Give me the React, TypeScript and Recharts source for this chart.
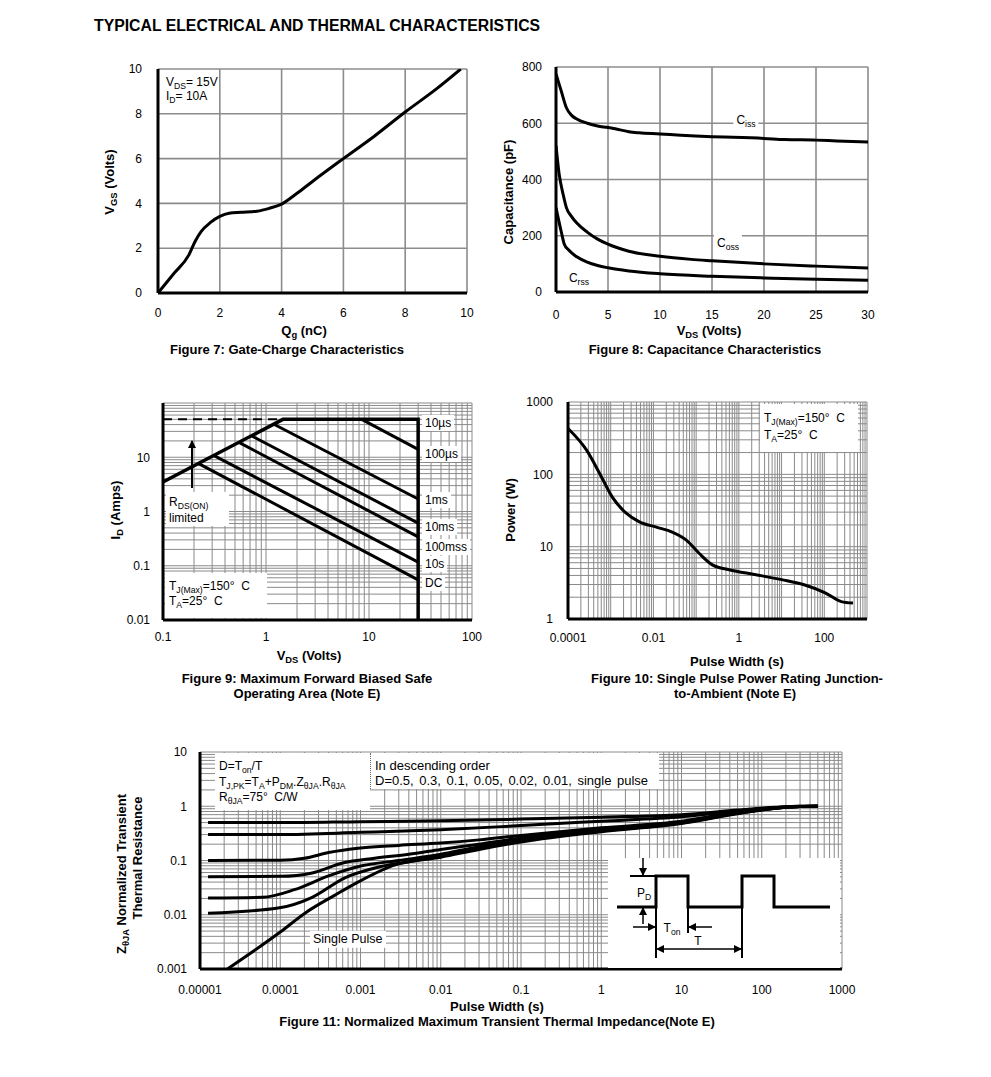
import React from 'react';
import { LineChart, Line, XAxis, YAxis, CartesianGrid } from 'recharts';

const FONT = '"Liberation Sans", Arial, Helvetica, sans-serif';

// ---------- Figure 7: gate charge ----------
const QG_NC = [0, 0.5, 1, 1.2, 1.4, 1.7, 2, 2.3, 2.7, 3.2, 3.6, 4, 4.5, 5, 6, 7, 8, 9, 9.8];
const VGS_V = [0, 0.85, 1.7, 2.3, 2.75, 3.15, 3.42, 3.56, 3.6, 3.65, 3.78, 3.97, 4.45, 4.98, 6.0, 7.0, 8.08, 9.1, 10];
const FIG7_TICKS = [0, 2, 4, 6, 8, 10];

// ---------- Figure 8: capacitance ----------
const CISS_VDS = [0, 0.5, 1, 1.5, 2, 3, 4, 5, 6, 7, 8, 10, 12, 15, 17, 20, 22, 25, 27, 30];
const CISS_PF = [775, 715, 655, 628, 615, 600, 590, 585, 578, 570, 566, 562, 557, 552, 550, 546, 542, 540, 537, 533];
const COSS_VDS = [0, 0.3, 0.7, 1, 1.5, 2, 3, 4, 5, 7, 10, 13, 15, 20, 25, 30];
const COSS_PF = [520, 420, 345, 300, 268, 245, 213, 188, 170, 145, 127, 116, 111, 100, 92, 85];
const CRSS_VDS = [0, 0.5, 0.8, 1.2, 2, 3, 4, 5, 7, 10, 15, 20, 25, 30];
const CRSS_PF = [300, 215, 170, 150, 125, 106, 94, 86, 75, 65, 56, 50, 45, 42];
const FIG8_X_TICKS = [0, 5, 10, 15, 20, 25, 30];
const FIG8_Y_TICKS = [0, 200, 400, 600, 800];

// ---------- Figure 9: safe operating area ----------
const SOA_LIMIT: [number, number][] = [[0.1, 3.5], [1.46, 50], [30, 50], [30, 0.01]];
const SOA_DASH: [number, number][] = [[0.1, 50], [1.46, 50]];
const SOA_100US: [number, number][] = [[8.5, 50], [30, 14]];
const SOA_1MS: [number, number][] = [[1.18, 41], [30, 1.7]];
const SOA_10MS: [number, number][] = [[0.72, 25], [30, 0.61]];
const SOA_100MS: [number, number][] = [[0.54, 19], [30, 0.34]];
const SOA_10S: [number, number][] = [[0.31, 10.8], [30, 0.117]];
const SOA_DC: [number, number][] = [[0.22, 7.7], [30, 0.055]];
const FIG9_X_LABELS = [0.1, 1, 10, 100];
const FIG9_X_TEXT = ['0.1', '1', '10', '100'];
const FIG9_Y_LABELS = [0.01, 0.1, 1, 10];
const FIG9_Y_TEXT = ['0.01', '0.1', '1', '10'];
const SOA_TAGS = ['10µs', '100µs', '1ms', '10ms', '100mss', '10s', 'DC'];

// ---------- Figure 10: single pulse power ----------
const PULSE_PW: [number, number][] = [
  [1e-4, 430], [2.75e-4, 214], [5.5e-4, 103], [1.1e-3, 48], [2.3e-3, 29], [4.7e-3, 22],
  [0.0117, 18.6], [0.0275, 15.9], [0.059, 12.3], [0.117, 8.1], [0.24, 5.6], [0.59, 4.8],
  [2.5, 4.1], [10, 3.5], [35, 2.95], [105, 2.3], [250, 1.74], [470, 1.66],
];
const FIG10_X_LABELS = [1e-4, 1e-2, 1, 100];
const FIG10_X_TEXT = ['0.0001', '0.01', '1', '100'];
const FIG10_Y_LABELS = [1, 10, 100, 1000];
const FIG10_Y_TEXT = ['1', '10', '100', '1000'];

// ---------- Figure 11: transient thermal impedance ----------
const Z_D05: [number, number][] = [[1.26e-5, 0.5], [1e-4, 0.5], [1e-3, 0.52], [0.01, 0.54], [0.1, 0.58], [1, 0.63], [10, 0.7], [50, 0.85], [150, 0.96], [300, 1.0], [500, 1.0]];
const Z_D03: [number, number][] = [[1.26e-5, 0.3], [1e-4, 0.3], [1e-3, 0.33], [0.01, 0.37], [0.1, 0.44], [1, 0.53], [10, 0.64], [50, 0.82], [150, 0.95], [300, 1.0], [500, 1.0]];
const Z_D01: [number, number][] = [[1.26e-5, 0.1], [1e-4, 0.101], [2e-4, 0.11], [4e-4, 0.14], [1e-3, 0.17], [3e-3, 0.19], [0.01, 0.21], [0.03, 0.24], [0.1, 0.29], [1, 0.4], [10, 0.53], [50, 0.78], [150, 0.94], [300, 0.99], [500, 1.0]];
const Z_D005: [number, number][] = [[1.26e-5, 0.05], [1e-4, 0.051], [2.5e-4, 0.059], [6e-4, 0.09], [1.5e-3, 0.11], [4e-3, 0.13], [0.01, 0.16], [0.03, 0.2], [0.1, 0.26], [1, 0.38], [10, 0.51], [50, 0.76], [150, 0.93], [300, 0.99], [500, 1.0]];
const Z_D002: [number, number][] = [[1.26e-5, 0.0204], [6e-5, 0.021], [1.5e-4, 0.029], [4e-4, 0.052], [1e-3, 0.079], [3e-3, 0.1], [0.01, 0.13], [0.03, 0.18], [0.1, 0.24], [1, 0.36], [10, 0.5], [50, 0.75], [150, 0.93], [300, 0.99], [500, 1.0]];
const Z_D001: [number, number][] = [[1.26e-5, 0.0107], [9.4e-5, 0.0133], [2.5e-4, 0.021], [6.4e-4, 0.048], [1.65e-3, 0.075], [4e-3, 0.095], [0.01, 0.12], [0.03, 0.17], [0.1, 0.23], [1, 0.35], [10, 0.49], [50, 0.74], [150, 0.92], [300, 0.99], [500, 1.0]];
const Z_SINGLE: [number, number][] = [[2.2e-5, 0.001], [1e-4, 0.0048], [2.05e-4, 0.0108], [4.8e-4, 0.023], [9.3e-4, 0.04], [2.7e-3, 0.083], [0.01, 0.115], [0.03, 0.16], [0.1, 0.22], [1, 0.34], [10, 0.48], [50, 0.73], [150, 0.92], [300, 0.99], [500, 1.0]];
const FIG11_X_LABELS = [1e-5, 1e-4, 1e-3, 1e-2, 0.1, 1, 10, 100, 1000];
const FIG11_X_TEXT = ['0.00001', '0.0001', '0.001', '0.01', '0.1', '1', '10', '100', '1000'];
const FIG11_Y_LABELS = [0.001, 0.01, 0.1, 1, 10];
const FIG11_Y_TEXT = ['0.001', '0.01', '0.1', '1', '10'];

// ---------- helpers ----------
const zip = (xs: number[], ys: number[]) => xs.map((x, i) => ({ x, y: ys[i] }));
const pairs = (p: [number, number][]) => p.map(([x, y]) => ({ x, y }));

// grid lines at 1..9 of every decade
function logTicks(lo: number, hi: number) {
  const out: number[] = [];
  for (let e = lo; e < hi; e++) for (let k = 1; k < 10; k++) out.push(+(k * Math.pow(10, e)).toPrecision(2));
  out.push(+Math.pow(10, hi).toPrecision(2));
  return out;
}
const labeler = (vals: number[], txt: string[]) => (v: number) => {
  const i = vals.findIndex((u) => Math.abs(u - v) / u < 1e-6);
  return i < 0 ? '' : txt[i];
};

const YW = 70, PT = 10, PR = 28, XH = 36;

type AxisCfg = { domain: [number, number]; ticks: number[]; log?: boolean; fmt?: (v: number) => string; gap: number };
type PlotCfg = { l: number; t: number; r: number; b: number; x: AxisCfg; y: AxisCfg; grid: string; gw: number };

function plot(key: string, c: PlotCfg, series: React.ReactNode[]) {
  const tick = { fill: '#000', fontSize: 12, fontFamily: FONT };
  const axisLine = { stroke: '#000', strokeWidth: 3 };
  return (
    <div key={key} style={{ position: 'absolute', left: c.l - YW, top: c.t - PT }}>
      <LineChart width={c.r - c.l + YW + PR} height={c.b - c.t + PT + XH} margin={{ top: PT, right: PR, left: 0, bottom: 0 }}>
        <CartesianGrid stroke={c.grid} strokeWidth={c.gw} />
        <XAxis type="number" dataKey="x" scale={c.x.log ? 'log' : 'linear'} domain={c.x.domain} ticks={c.x.ticks}
          interval={0} allowDataOverflow height={XH} tickLine={false} axisLine={axisLine}
          tickMargin={c.x.gap} tick={tick} tickFormatter={c.x.fmt} />
        <YAxis type="number" scale={c.y.log ? 'log' : 'linear'} domain={c.y.domain} ticks={c.y.ticks}
          interval={0} allowDataOverflow width={YW} tickLine={false} axisLine={axisLine}
          tickMargin={c.y.gap} tick={tick} tickFormatter={c.y.fmt} />
        {series}
      </LineChart>
    </div>
  );
}

const curve = (key: string, data: { x: number; y: number }[], opts: { type?: 'monotone' | 'linear'; w?: number; dash?: string } = {}) => (
  <Line key={key} data={data} dataKey="y" type={opts.type ?? 'monotone'} stroke="#000" strokeWidth={opts.w ?? 3}
    strokeDasharray={opts.dash} dot={false} activeDot={false} isAnimationActive={false} />
);

const Sub = ({ children }: { children: React.ReactNode }) => (
  <span style={{ fontSize: '0.72em', position: 'relative', top: '0.3em' }}>{children}</span>
);

type TxtProps = { x: number; y: number; a?: 'start' | 'middle' | 'end'; b?: boolean; s?: number; bg?: boolean; rot?: boolean; ws?: number; children: React.ReactNode };
const Txt = ({ x, y, a = 'start', b, s, bg, rot, ws, children }: TxtProps) => {
  const tx = a === 'middle' ? '-50%' : a === 'end' ? '-100%' : '0';
  return (
    <div style={{
      position: 'absolute', left: x, top: y, whiteSpace: 'nowrap', lineHeight: 1,
      transform: `translate(${tx}, -50%)${rot ? ' rotate(-90deg)' : ''}`,
      fontFamily: FONT, fontSize: s ?? (b ? 13 : 12), fontWeight: b ? 700 : 400, color: '#000',
      wordSpacing: ws, background: bg ? '#fff' : undefined, padding: bg ? '2px 3px' : undefined,
    }}>{children}</div>
  );
};

const Box = ({ l, t, r, b, dotted }: { l: number; t: number; r: number; b: number; dotted?: boolean }) => (
  <div style={{ position: 'absolute', left: l, top: t, width: r - l, height: b - t, background: '#fff', borderLeft: dotted ? '1px dotted #666' : undefined }} />
);

export default function App() {
  const fig7: PlotCfg = {
    l: 158, t: 69, r: 467, b: 293, grid: '#8c8c8c', gw: 1.6,
    x: { domain: [0, 10], ticks: FIG7_TICKS, gap: 9 },
    y: { domain: [0, 10], ticks: FIG7_TICKS, gap: 10 },
  };
  const fig8: PlotCfg = {
    l: 556, t: 67, r: 868, b: 292, grid: '#8c8c8c', gw: 1.6,
    x: { domain: [0, 30], ticks: FIG8_X_TICKS, gap: 12 },
    y: { domain: [0, 800], ticks: FIG8_Y_TICKS, gap: 8 },
  };
  const fig9: PlotCfg = {
    l: 163, t: 403, r: 472, b: 620, grid: '#8a8a8a', gw: 1,
    x: { domain: [0.1, 100], ticks: logTicks(-1, 2), log: true, fmt: labeler(FIG9_X_LABELS, FIG9_X_TEXT), gap: 6 },
    y: { domain: [0.01, 100], ticks: logTicks(-2, 2), log: true, fmt: labeler(FIG9_Y_LABELS, FIG9_Y_TEXT), gap: 7 },
  };
  const fig10: PlotCfg = {
    l: 568, t: 402, r: 867, b: 619, grid: '#8a8a8a', gw: 1,
    x: { domain: [1e-4, 1000], ticks: logTicks(-4, 3), log: true, fmt: labeler(FIG10_X_LABELS, FIG10_X_TEXT), gap: 8 },
    y: { domain: [1, 1000], ticks: logTicks(0, 3), log: true, fmt: labeler(FIG10_Y_LABELS, FIG10_Y_TEXT), gap: 9 },
  };
  const fig11: PlotCfg = {
    l: 200, t: 752, r: 842, b: 969, grid: '#8a8a8a', gw: 1,
    x: { domain: [1e-5, 1000], ticks: logTicks(-5, 3), log: true, fmt: labeler(FIG11_X_LABELS, FIG11_X_TEXT), gap: 10 },
    y: { domain: [0.001, 10], ticks: logTicks(-3, 1), log: true, fmt: labeler(FIG11_Y_LABELS, FIG11_Y_TEXT), gap: 7 },
  };

  const soaLabelY = [423, 454, 500, 527, 547, 564, 583];

  return (
    <div style={{ position: 'relative', width: 991, height: 1077, background: '#fff', overflow: 'hidden', fontFamily: FONT }}>
      <style>{'body{margin:0}'}</style>

      <Txt x={94} y={26} b s={15.8}>TYPICAL ELECTRICAL AND THERMAL CHARACTERISTICS</Txt>

      {plot('f7', fig7, [curve('qg', zip(QG_NC, VGS_V))])}
      {plot('f8', fig8, [
        curve('ciss', zip(CISS_VDS, CISS_PF)),
        curve('coss', zip(COSS_VDS, COSS_PF)),
        curve('crss', zip(CRSS_VDS, CRSS_PF)),
      ])}
      {plot('f9', fig9, [
        curve('dash', pairs(SOA_DASH), { type: 'linear', w: 2, dash: '9 6' }),
        curve('lim', pairs(SOA_LIMIT), { type: 'linear', w: 3.5 }),
        curve('100us', pairs(SOA_100US), { type: 'linear' }),
        curve('1ms', pairs(SOA_1MS), { type: 'linear' }),
        curve('10ms', pairs(SOA_10MS), { type: 'linear' }),
        curve('100ms', pairs(SOA_100MS), { type: 'linear' }),
        curve('10s', pairs(SOA_10S), { type: 'linear' }),
        curve('dc', pairs(SOA_DC), { type: 'linear' }),
      ])}
      {plot('f10', fig10, [curve('pw', pairs(PULSE_PW))])}
      {plot('f11', fig11, [
        curve('d05', pairs(Z_D05)),
        curve('d03', pairs(Z_D03)),
        curve('d01', pairs(Z_D01)),
        curve('d005', pairs(Z_D005)),
        curve('d002', pairs(Z_D002)),
        curve('d001', pairs(Z_D001)),
        curve('sp', pairs(Z_SINGLE)),
      ])}

      {/* ---- fig 7 texts ---- */}
      <Box l={160} t={71} r={217} b={103} />
      <Txt x={166} y={82}>V<Sub>DS</Sub>= 15V</Txt>
      <Txt x={166} y={96}>I<Sub>D</Sub>= 10A</Txt>
      <Txt x={110} y={182} a="middle" b rot>V<Sub>GS</Sub> (Volts)</Txt>
      <Txt x={304} y={331} a="middle" b>Q<Sub>g</Sub> (nC)</Txt>
      <Txt x={287} y={349} a="middle" b>Figure 7: Gate-Charge Characteristics</Txt>

      {/* ---- fig 8 texts ---- */}
      <Txt x={746} y={120} a="middle" bg>C<Sub>iss</Sub></Txt>
      <Txt x={728} y={243} a="middle" bg>C<Sub>oss</Sub></Txt>
      <Txt x={579} y={278} a="middle">C<Sub>rss</Sub></Txt>
      <Txt x={508} y={192} a="middle" b rot>Capacitance (pF)</Txt>
      <Txt x={709} y={331} a="middle" b>V<Sub>DS</Sub> (Volts)</Txt>
      <Txt x={705} y={349} a="middle" b>Figure 8: Capacitance Characteristics</Txt>

      {/* ---- fig 9 texts ---- */}
      {SOA_TAGS.map((t, i) => (
        <Txt key={t} x={422} y={soaLabelY[i]} bg>{t}</Txt>
      ))}
      <Box l={166} t={492} r={229} b={526} />
      <Txt x={169} y={502}>R<Sub>DS(ON)</Sub></Txt>
      <Txt x={169} y={518}>limited</Txt>
      <Box l={165} t={573} r={267} b={618} />
      <Txt x={169} y={586}>T<Sub>J(Max)</Sub>=150°&nbsp; C</Txt>
      <Txt x={169} y={601}>T<Sub>A</Sub>=25°&nbsp; C</Txt>
      <Txt x={116} y={510} a="middle" b rot>I<Sub>D</Sub> (Amps)</Txt>
      <Txt x={309} y={656} a="middle" b>V<Sub>DS</Sub> (Volts)</Txt>
      <Txt x={307} y={678} a="middle" b>Figure 9: Maximum Forward Biased Safe</Txt>
      <Txt x={307} y={693} a="middle" b>Operating Area (Note E)</Txt>

      {/* ---- fig 10 texts ---- */}
      <Box l={760} t={404} r={858} b={452} />
      <Txt x={764} y={418}>T<Sub>J(Max)</Sub>=150°&nbsp; C</Txt>
      <Txt x={764} y={435}>T<Sub>A</Sub>=25°&nbsp; C</Txt>
      <Txt x={510} y={510} a="middle" b rot>Power (W)</Txt>
      <Txt x={737} y={661} a="middle" b>Pulse Width (s)</Txt>
      <Txt x={737} y={678} a="middle" b>Figure 10: Single Pulse Power Rating Junction-</Txt>
      <Txt x={735} y={693} a="middle" b>to-Ambient (Note E)</Txt>

      {/* ---- fig 11 texts ---- */}
      <Box l={215} t={753} r={370} b={810} />
      <Box l={370} t={753} r={658} b={789} dotted />
      <Txt x={219} y={766}>D=T<Sub>on</Sub>/T</Txt>
      <Txt x={219} y={782}>T<Sub>J,PK</Sub>=T<Sub>A</Sub>+P<Sub>DM</Sub>.Z<Sub>θJA</Sub>.R<Sub>θJA</Sub></Txt>
      <Txt x={219} y={797}>R<Sub>θJA</Sub>=75°&nbsp; C/W</Txt>
      <Txt x={375} y={765} s={13}>In descending order</Txt>
      <Txt x={375} y={780} s={13} ws={2}>D=0.5, 0.3, 0.1, 0.05, 0.02, 0.01, single pulse</Txt>
      <Txt x={310} y={939} s={12.5} bg>Single Pulse</Txt>
      <Txt x={122} y={874} a="middle" b rot>Z<Sub>θJA</Sub> Normalized Transient</Txt>
      <Txt x={137} y={858} a="middle" b rot>Thermal Resistance</Txt>
      <Txt x={497} y={1006} a="middle" b>Pulse Width (s)</Txt>
      <Txt x={497} y={1021} a="middle" b>Figure 11: Normalized Maximum Transient Thermal Impedance(Note E)</Txt>

      {/* ---- schematic drawings ---- */}
      <svg width={991} height={1077} style={{ position: 'absolute', left: 0, top: 0, pointerEvents: 'none' }}>
        <defs>
          <marker id="ah" markerUnits="userSpaceOnUse" markerWidth={8} markerHeight={8} refX={7} refY={4} orient="auto-start-reverse">
            <path d="M0,0 L8,4 L0,8 z" fill="#000" />
          </marker>
        </defs>
        {/* fig 9 R_DS(on) arrow */}
        <line x1={192} y1={488} x2={192} y2={441} stroke="#000" strokeWidth={2} markerEnd="url(#ah)" />
        {/* fig 11 pulse inset */}
        <rect x={608} y={858} width={232} height={110} fill="#fff" />
        <polyline points="617,907 656,907 656,876 688,876 688,907 742,907 742,876 774,876 774,907 830,907" fill="none" stroke="#000" strokeWidth={3} />
        <line x1={630} y1={876} x2={656} y2={876} stroke="#000" strokeWidth={2} />
        <line x1={656} y1={876} x2={656} y2={958} stroke="#000" strokeWidth={2} />
        <line x1={688} y1={900} x2={688} y2={933} stroke="#000" strokeWidth={2} />
        <line x1={742} y1={900} x2={742} y2={958} stroke="#000" strokeWidth={2} />
        <line x1={643} y1={858} x2={643} y2={875} stroke="#000" strokeWidth={1.5} markerEnd="url(#ah)" />
        <line x1={643} y1={924} x2={643} y2={908} stroke="#000" strokeWidth={1.5} markerEnd="url(#ah)" />
        <line x1={633} y1={927} x2={655} y2={927} stroke="#000" strokeWidth={1.5} markerEnd="url(#ah)" />
        <line x1={712} y1={927} x2={689} y2={927} stroke="#000" strokeWidth={1.5} markerEnd="url(#ah)" />
        <line x1={657} y1={949} x2={741} y2={949} stroke="#000" strokeWidth={1.5} markerStart="url(#ah)" markerEnd="url(#ah)" />
      </svg>
      <Txt x={644} y={893} a="middle">P<Sub>D</Sub></Txt>
      <Txt x={672} y={928} a="middle">T<Sub>on</Sub></Txt>
      <Txt x={698} y={941} a="middle">T</Txt>
    </div>
  );
}
